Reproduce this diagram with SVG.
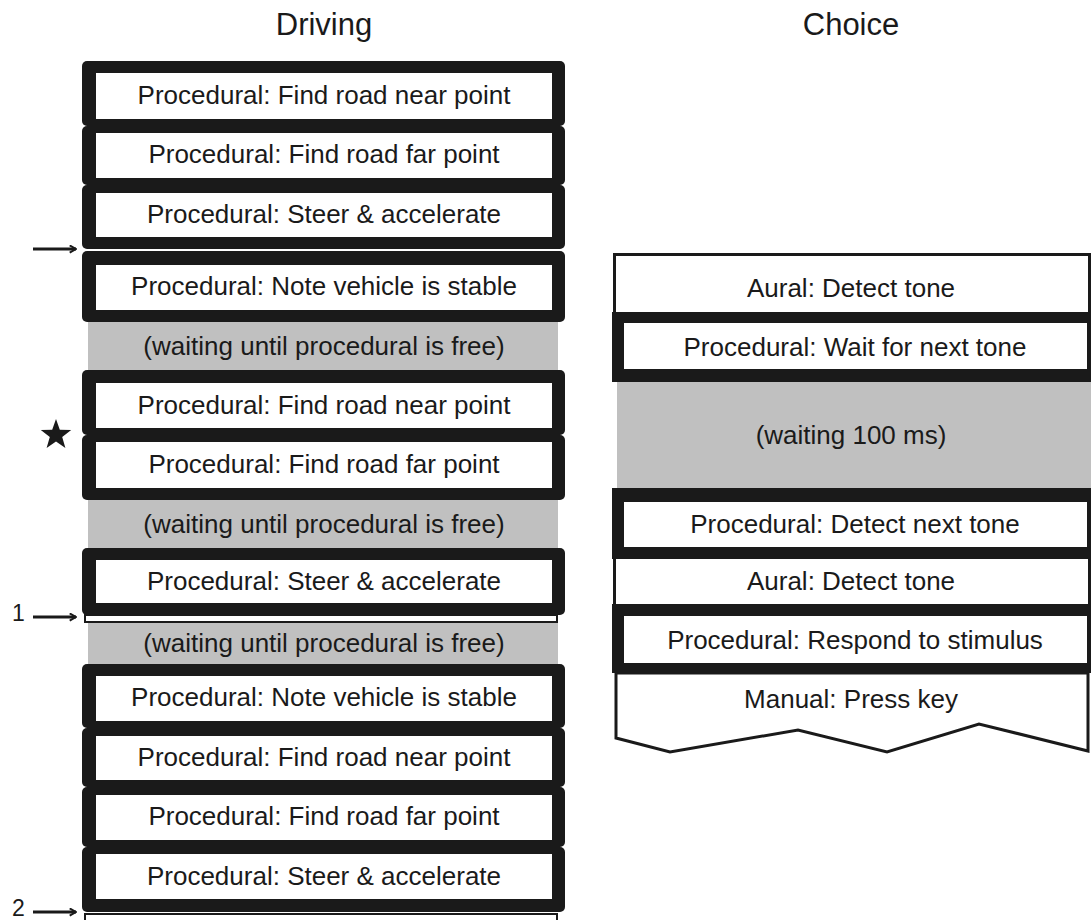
<svg xmlns="http://www.w3.org/2000/svg" width="1091" height="920" viewBox="0 0 1091 920">
<defs>
<style>
text{font-family:"Liberation Sans",Arial,sans-serif;fill:#1a1a1a;text-anchor:middle}
.t{font-size:26px}
.h{font-size:31px}
.n{font-size:23px;text-anchor:start}
.blk{fill:#1a1a1a}
.wh{fill:#ffffff}
.gr{fill:#c0c0c0}
.ol{fill:#ffffff;stroke:#1a1a1a;stroke-width:3}
.thin{fill:#ffffff;stroke:#1a1a1a;stroke-width:2}
.arr{fill:none;stroke:#1a1a1a;stroke-width:3}
</style>
<marker id="ah" viewBox="0 0 10 10" refX="9" refY="5" markerWidth="3" markerHeight="3" orient="auto" markerUnits="strokeWidth">
<path d="M2,1 L9,5 L2,9" fill="none" stroke="#1a1a1a" stroke-width="2.2"/>
</marker>
</defs>
<rect width="1091" height="920" fill="#ffffff"/>

<g id="titles">
<text class="h" x="324" y="35">Driving</text>
<text class="h" x="851" y="35">Choice</text>
</g>

<!-- Driving column -->
<g id="d-near-1"><rect class="blk" x="82" y="61" width="483" height="65" rx="5"/><rect class="wh" x="96" y="73" width="456" height="46"/><text class="t" x="324" y="104">Procedural: Find road near point</text></g>
<g id="d-far-1"><rect class="blk" x="82" y="126" width="483" height="59" rx="5"/><rect class="wh" x="96" y="133" width="456" height="45"/><text class="t" x="324" y="163">Procedural: Find road far point</text></g>
<g id="d-steer-1"><rect class="blk" x="82" y="185" width="483" height="64" rx="5"/><rect class="wh" x="96" y="193" width="456" height="44"/><text class="t" x="324" y="223">Procedural: Steer &amp; accelerate</text></g>
<g id="d-stable-1"><rect class="blk" x="82" y="251" width="483" height="71" rx="5"/><rect class="wh" x="96" y="265" width="456" height="45"/><text class="t" x="324" y="295">Procedural: Note vehicle is stable</text></g>
<g id="d-wait-1"><rect class="gr" x="88" y="322" width="470" height="48"/><text class="t" x="324" y="355">(waiting until procedural is free)</text></g>
<g id="d-near-2"><rect class="blk" x="82" y="370" width="483" height="65" rx="5"/><rect class="wh" x="96" y="383" width="456" height="45"/><text class="t" x="324" y="414">Procedural: Find road near point</text></g>
<g id="d-far-2"><rect class="blk" x="82" y="435" width="483" height="65" rx="5"/><rect class="wh" x="96" y="442" width="456" height="46"/><text class="t" x="324" y="473">Procedural: Find road far point</text></g>
<g id="d-wait-2"><rect class="gr" x="88" y="500" width="470" height="48"/><text class="t" x="324" y="533">(waiting until procedural is free)</text></g>
<g id="d-steer-2"><rect class="blk" x="82" y="548" width="483" height="67" rx="5"/><rect class="wh" x="96" y="560" width="456" height="43"/><text class="t" x="324" y="590">Procedural: Steer &amp; accelerate</text></g>
<g id="d-strip-1"><rect class="thin" x="85" y="615" width="472" height="7"/></g>
<g id="d-wait-3"><rect class="gr" x="88" y="623" width="470" height="41"/><text class="t" x="324" y="652">(waiting until procedural is free)</text></g>
<g id="d-stable-2"><rect class="blk" x="82" y="664" width="483" height="64" rx="5"/><rect class="wh" x="96" y="676" width="456" height="45"/><text class="t" x="324" y="706">Procedural: Note vehicle is stable</text></g>
<g id="d-near-3"><rect class="blk" x="82" y="728" width="483" height="59" rx="5"/><rect class="wh" x="96" y="736" width="456" height="44"/><text class="t" x="324" y="766">Procedural: Find road near point</text></g>
<g id="d-far-3"><rect class="blk" x="82" y="787" width="483" height="60" rx="5"/><rect class="wh" x="96" y="795" width="456" height="45"/><text class="t" x="324" y="825">Procedural: Find road far point</text></g>
<g id="d-steer-3"><rect class="blk" x="82" y="847" width="483" height="65" rx="5"/><rect class="wh" x="96" y="854" width="456" height="45"/><text class="t" x="324" y="885">Procedural: Steer &amp; accelerate</text></g>
<g id="d-strip-2"><rect class="thin" x="85" y="914" width="472" height="10"/></g>

<!-- Choice column -->
<g id="c-aural-1"><rect class="ol" x="614.5" y="254.5" width="475" height="60"/><text class="t" x="851" y="297">Aural: Detect tone</text></g>
<g id="c-wait-tone"><rect class="blk" x="612" y="312" width="479" height="70"/><rect class="wh" x="624" y="323" width="463" height="46"/><text class="t" x="855" y="356">Procedural: Wait for next tone</text></g>
<g id="c-wait-100"><rect class="gr" x="617" y="382" width="474" height="106"/><text class="t" x="851" y="444">(waiting 100 ms)</text></g>
<g id="c-aural-2"><rect class="ol" x="614.5" y="552" width="475" height="56"/><text class="t" x="851" y="590">Aural: Detect tone</text></g>
<g id="c-detect-next"><rect class="blk" x="612" y="488" width="479" height="71"/><rect class="wh" x="624" y="502" width="463" height="45"/><text class="t" x="855" y="533">Procedural: Detect next tone</text></g>
<g id="c-respond"><rect class="blk" x="612" y="604" width="479" height="69"/><rect class="wh" x="624" y="616" width="463" height="47"/><text class="t" x="855" y="649">Procedural: Respond to stimulus</text></g>
<g id="c-manual"><path class="ol" d="M616,673 L1088,673 L1088,751 L979,724 L887,752 L798,730 L670,752 L616,738 Z"/><text class="t" x="851" y="708">Manual: Press key</text></g>

<!-- Markers -->
<g id="star"><polygon class="blk" points="56,419 59.8,429.7 71.2,430.1 62.2,437 65.4,447.9 56,441.5 46.6,447.9 49.8,437 40.8,430.1 52.2,429.7"/></g>
<g id="labels">
<text class="n" x="12" y="621">1</text>
<text class="n" x="12" y="916">2</text>
</g>
<g id="connectors">
<line class="arr" x1="33" y1="249" x2="76" y2="249" marker-end="url(#ah)"/>
<line class="arr" x1="33" y1="617" x2="76" y2="617" marker-end="url(#ah)"/>
<line class="arr" x1="33" y1="912" x2="76" y2="912" marker-end="url(#ah)"/>
</g>
</svg>
